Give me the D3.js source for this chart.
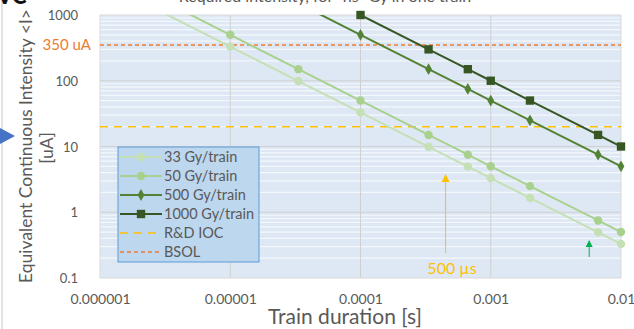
<!DOCTYPE html>
<html>
<head>
<meta charset="utf-8">
<script src="https://cdn.jsdelivr.net/npm/d3@7"></script>
<style>
  html, body { margin: 0; padding: 0; background: #fff; }
  svg { display: block; font-family: Lato, "Open Sans", sans-serif; }
</style>
</head>
<body>
<svg id="chart" width="634" height="329"></svg>
<script>
// Train durations [s] and equivalent continuous intensity [uA] per dose
const durations = [1e-6, 1e-5, 3.33e-5, 1e-4, 3.33e-4, 6.67e-4, 1e-3, 2e-3, 6.67e-3, 1e-2];
const i33   = [3300, 330, 99, 33, 9.9, 4.95, 3.3, 1.65, 0.495, 0.33];
const i50   = [5000, 500, 150, 50, 15, 7.5, 5, 2.5, 0.75, 0.5];
const i500  = [50000, 5000, 1500, 500, 150, 75, 50, 25, 7.5, 5];
const i1000 = [100000, 10000, 3000, 1000, 300, 150, 100, 50, 15, 10];

const seriesNames = ["33 Gy/train", "50 Gy/train", "500 Gy/train", "1000 Gy/train"];
const seriesValues = [i33, i50, i500, i1000];

// Reference levels [uA]
const refNames = ["R&D IOC", "BSOL"];
const refValues = [20, 350];

const xTicks = [1e-6, 1e-5, 1e-4, 1e-3, 1e-2];
const xTickLabels = ["0.000001", "0.00001", "0.0001", "0.001", "0.01"];
const yTicks = [0.1, 1, 10, 100, 1000];
const yTickLabels = ["0.1", "1", "10", "100", "1000"];

const pulseMarker = 4.5e-4; // 500 µs annotation
const greenMarker = 5.7e-3;

const svg = d3.select("#chart");
const plot = { left: 100, top: 15, right: 621, bottom: 278 };

const x = d3.scaleLog().domain([1e-6, 1e-2]).range([plot.left, plot.right]);
const y = d3.scaleLog().domain([0.1, 1000]).range([plot.bottom, plot.top]);

const colors = ["#c5e0b4", "#a9d18e", "#548235", "#375623"];
const markers = ["circle", "circle", "diamond", "square"];
const refColors = ["#ffc000", "#ed7d31"];
const refDash = ["8,6", "4,3"];

// slide decorations
svg.append("line").attr("x1", 2).attr("x2", 2).attr("y1", 0).attr("y2", 329)
  .attr("stroke", "#c8c8c8").attr("stroke-width", 1);
svg.append("text").attr("x", -3).attr("y", 4).attr("font-size", 22).attr("font-weight", 900)
  .attr("fill", "#111").text("VC");
svg.append("path").attr("d", "M0,128 L15,136 L0,144 Z").attr("fill", "#4472c4");

// title
svg.append("text").attr("x", 325).attr("y", 2).attr("text-anchor", "middle")
  .attr("font-size", 16).attr("fill", "#595959")
  .text("Required intensity, for \u201Cns\u201D Gy in one train");

// plot background
svg.append("rect").attr("x", plot.left).attr("y", plot.top)
  .attr("width", plot.right - plot.left).attr("height", plot.bottom - plot.top)
  .attr("fill", "#dee8f4");

// minor horizontal grid (white)
const minor = [];
for (let d = 0.1; d < 1000; d *= 10) for (let k = 2; k <= 9; k++) minor.push(d * k);
svg.append("g").selectAll("line").data(minor).join("line")
  .attr("x1", plot.left).attr("x2", plot.right)
  .attr("y1", d => y(d)).attr("y2", d => y(d))
  .attr("stroke", "#f4f8fc").attr("stroke-width", 1.2);

// major grid
svg.append("g").selectAll("line").data(yTicks.slice(1, -1)).join("line")
  .attr("x1", plot.left).attr("x2", plot.right)
  .attr("y1", d => y(d)).attr("y2", d => y(d))
  .attr("stroke", "#d0d0d0").attr("stroke-width", 1);
svg.append("g").selectAll("line").data(xTicks.slice(1, -1)).join("line")
  .attr("y1", plot.top).attr("y2", plot.bottom)
  .attr("x1", d => x(d)).attr("x2", d => x(d))
  .attr("stroke", "#d0d0d0").attr("stroke-width", 1);

svg.append("rect").attr("x", plot.left).attr("y", plot.top)
  .attr("width", plot.right - plot.left).attr("height", plot.bottom - plot.top)
  .attr("fill", "none").attr("stroke", "#d9d9d9").attr("stroke-width", 1);

// axes (labels only)
const xAxis = d3.axisBottom(x).tickValues(xTicks).tickFormat((d, i) => xTickLabels[i]).tickSize(0).tickPadding(0);
const gx = svg.append("g").attr("transform", `translate(0,${plot.bottom})`).call(xAxis);
gx.select(".domain").remove();
gx.selectAll("text").attr("y", 26).attr("dy", 0).attr("font-size", 14).attr("fill", "#595959")
  .attr("font-family", "Lato, sans-serif");

const yAxis = d3.axisLeft(y).tickValues(yTicks).tickFormat((d, i) => yTickLabels[i]).tickSize(0).tickPadding(0);
const gy = svg.append("g").attr("transform", `translate(${plot.left},0)`).call(yAxis);
gy.select(".domain").remove();
gy.selectAll("text").attr("x", -22).attr("dy", "0.35em").attr("font-size", 13).attr("fill", "#595959")
  .attr("font-family", "Lato, sans-serif");

// BSOL level label
svg.append("text").attr("x", 91).attr("y", y(refValues[1])).attr("dy", "0.35em")
  .attr("text-anchor", "end").attr("font-size", 15).attr("fill", refColors[1]).text("350 uA");

// axis titles
svg.append("text").attr("transform", "translate(32,146) rotate(-90)")
  .attr("text-anchor", "middle").attr("font-size", 17.5).attr("fill", "#595959")
  .text("Equivalent Continuous Intensity <I>");
svg.append("text").attr("transform", "translate(53,148) rotate(-90)")
  .attr("text-anchor", "middle").attr("font-size", 17.5).attr("fill", "#595959")
  .text("[uA]");
svg.append("text").attr("x", 345).attr("y", 324).attr("text-anchor", "middle")
  .attr("font-size", 21).attr("fill", "#595959").text("Train duration [s]");

// clipping for lines
svg.append("clipPath").attr("id", "plotClip").append("rect")
  .attr("x", plot.left).attr("y", plot.top)
  .attr("width", plot.right - plot.left).attr("height", plot.bottom - plot.top);

// reference levels
refValues.forEach((v, i) => {
  svg.append("line").attr("x1", plot.left).attr("x2", plot.right)
    .attr("y1", y(v)).attr("y2", y(v))
    .attr("stroke", refColors[i]).attr("stroke-width", 1.6).attr("stroke-dasharray", refDash[i]);
});

// series
const line = d3.line().x(d => x(d[0])).y(d => y(d[1]));
const symbolFor = { circle: d3.symbolCircle, diamond: d3.symbolDiamond, square: d3.symbolSquare };
const symbolSize = { circle: 55, diamond: 40, square: 70 };

seriesValues.forEach((vals, s) => {
  const pts = durations.map((t, i) => [t, vals[i]]);
  svg.append("path").datum(pts).attr("clip-path", "url(#plotClip)")
    .attr("d", line).attr("fill", "none").attr("stroke", colors[s]).attr("stroke-width", 2);
  const visible = pts.filter(p => p[1] <= 1000.5 && p[1] >= 0.1 && p[0] >= 1e-6 && p[0] <= 1e-2);
  svg.append("g").selectAll("path").data(visible).join("path")
    .attr("transform", d => `translate(${x(d[0])},${y(d[1])})`)
    .attr("d", d3.symbol().type(symbolFor[markers[s]]).size(symbolSize[markers[s]]))
    .attr("fill", colors[s]);
});

// annotations
const ax = x(pulseMarker);
svg.append("line").attr("x1", ax).attr("x2", ax).attr("y1", 253).attr("y2", 180)
  .attr("stroke", "#ffc000").attr("stroke-width", 1);
svg.append("path").attr("d", `M${ax},174 L${ax - 4},182 L${ax + 4},182 Z`).attr("fill", "#ffc000");
svg.append("text").attr("x", 452).attr("y", 274).attr("text-anchor", "middle")
  .attr("font-size", 16).attr("fill", "#ffc000").text("500 \u00B5s");

const gxm = x(greenMarker);
svg.append("line").attr("x1", gxm).attr("x2", gxm).attr("y1", 257).attr("y2", 245)
  .attr("stroke", "#00b050").attr("stroke-width", 1);
svg.append("path").attr("d", `M${gxm},240 L${gxm - 3.5},247 L${gxm + 3.5},247 Z`).attr("fill", "#00b050");

// legend
const lg = svg.append("g");
lg.append("rect").attr("x", 118).attr("y", 147).attr("width", 141).attr("height", 115)
  .attr("fill", "#bdd7ee").attr("stroke", "#5b9bd5").attr("stroke-width", 1);
const rowY = d3.range(6).map(i => 157 + i * 19);
seriesNames.forEach((name, s) => {
  lg.append("line").attr("x1", 120).attr("x2", 162).attr("y1", rowY[s]).attr("y2", rowY[s])
    .attr("stroke", colors[s]).attr("stroke-width", 2);
  lg.append("path").attr("transform", `translate(141,${rowY[s]})`)
    .attr("d", d3.symbol().type(symbolFor[markers[s]]).size(symbolSize[markers[s]]))
    .attr("fill", colors[s]);
  lg.append("text").attr("x", 164).attr("y", rowY[s]).attr("dy", "0.35em")
    .attr("font-size", 14.5).attr("fill", "#595959").text(name);
});
refNames.forEach((name, r) => {
  const yy = rowY[4 + r];
  lg.append("line").attr("x1", 120).attr("x2", 162).attr("y1", yy).attr("y2", yy)
    .attr("stroke", refColors[r]).attr("stroke-width", 1.6).attr("stroke-dasharray", refDash[r]);
  lg.append("text").attr("x", 164).attr("y", yy).attr("dy", "0.35em")
    .attr("font-size", 14.5).attr("fill", "#595959").text(name);
});
</script>
</body>
</html>
